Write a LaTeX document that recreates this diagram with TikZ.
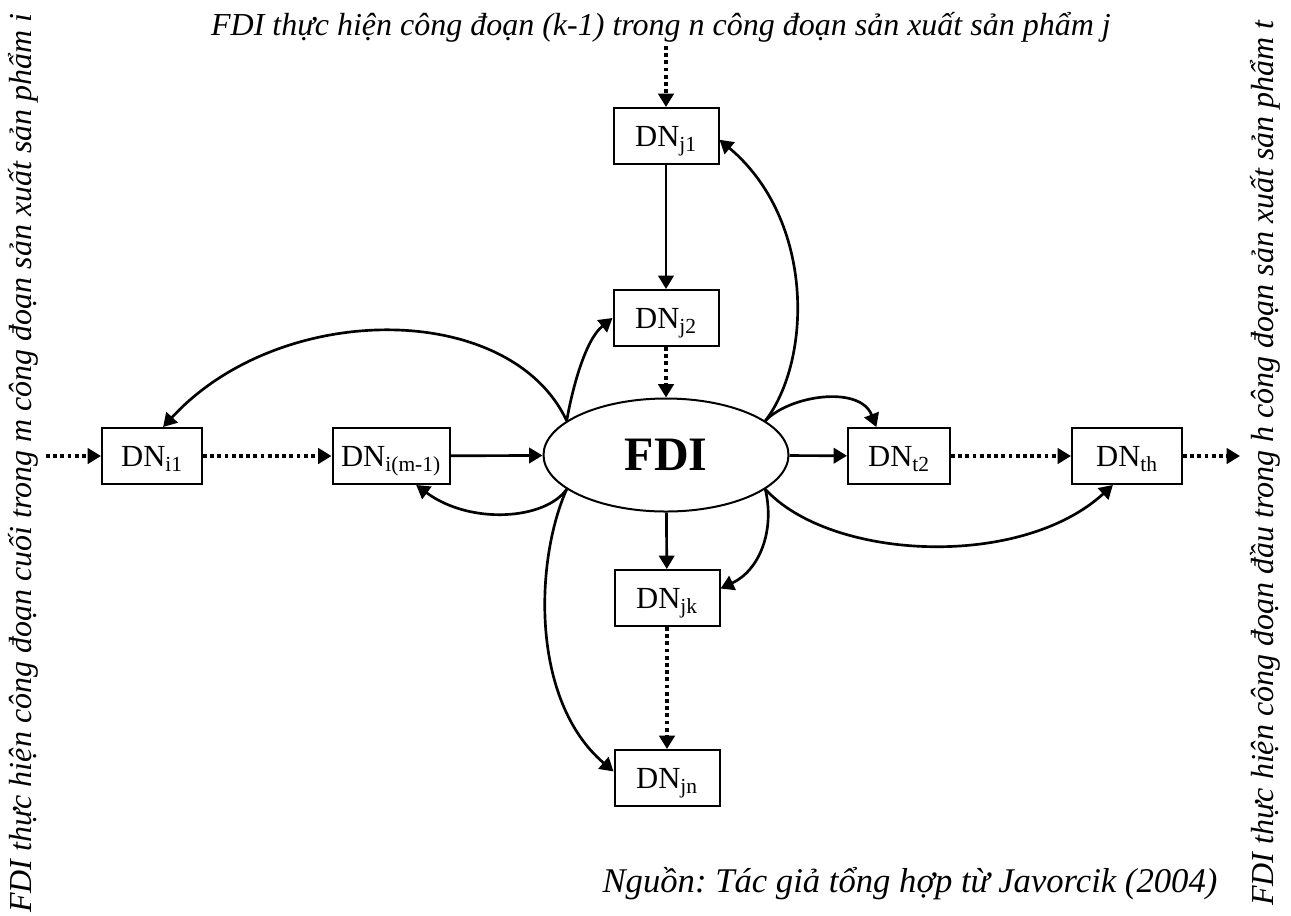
\documentclass[tikz,border=0pt]{standalone}
\usepackage{fontspec}
\setmainfont{Liberation Serif}
\usetikzlibrary{arrows.meta,shapes.geometric}
\frenchspacing

\begin{document}
\begin{tikzpicture}[x=0.75pt,y=-0.75pt,
  box/.style={draw,line width=1.5pt,minimum height=42pt,inner sep=0pt,
    text height=17pt,text depth=1.8pt,font=\fontsize{23}{27}\selectfont},
  tip/.style={-{Triangle[length=10pt,width=11.5pt]}},
  solidarr/.style={tip,line width=2pt},
  dotarr/.style={tip,line width=2.8pt,dash pattern=on 2.8pt off 2.6pt},
  lbl/.style={font=\itshape\fontsize{24}{28}\selectfont,inner sep=0pt}
]
\useasboundingbox (0,0) rectangle (1291,915);

% central firm
\node[ellipse,draw,line width=1.5pt,minimum width=183.75pt,minimum height=84.75pt,
  inner sep=0pt,font=\bfseries\fontsize{36}{40}\selectfont] (fdi) at (666,455) {FDI};

% vertical chain (product j)
\node[box,minimum width=78.75pt] (j1) at (666,136) {DN\textsubscript{j1}};
\node[box,minimum width=78.75pt] (j2) at (666,318) {DN\textsubscript{j2}};
\node[box,minimum width=78.75pt] (jk) at (667,598) {DN\textsubscript{jk}};
\node[box,minimum width=78.75pt] (jn) at (667,778) {DN\textsubscript{jn}};

% horizontal chain (products i and t)
\node[box,minimum width=75pt]   (i1) at (152,456) {DN\textsubscript{i1}};
\node[box,minimum width=87.75pt] (im) at (391,456) {DN\textsubscript{i(m-1)}};
\node[box,minimum width=76.5pt] (t2) at (899,456) {DN\textsubscript{t2}};
\node[box,minimum width=82.5pt] (th) at (1127,456) {DN\textsubscript{th}};

% free ends of the outer dotted arrows
\coordinate (tin) at (666,46);
\coordinate (lin) at (46,456);
\coordinate (rout) at (1240,456);

% labels
\node[lbl] (ttop) at (661,27) {FDI thực hiện công đoạn (k-1) trong n công đoạn sản xuất sản phẩm j};
\node[lbl,rotate=90] (tleft) at (23,463) {FDI thực hiện công đoạn cuối trong m công đoạn sản xuất sản phẩm i};
\node[lbl,rotate=90] (tright) at (1265,463) {FDI thực hiện công đoạn đầu trong h công đoạn sản xuất sản phẩm t};
\node[lbl,font=\itshape\fontsize{26}{30}\selectfont] (src) at (910,884) {Nguồn: Tác giả tổng hợp từ Javorcik (2004)};

% straight links
\draw[dotarr] (tin) -- (j1.north);
\draw[solidarr] (j1) -- (j2);
\draw[dotarr] (j2) -- (fdi);
\draw[solidarr] (fdi) -- (jk);
\draw[dotarr] (jk) -- (jn);
\draw[dotarr] (lin) -- (i1.west);
\draw[dotarr] (i1) -- (im);
\draw[solidarr] (im) -- (fdi);
\draw[solidarr] (fdi) -- (t2);
\draw[dotarr] (t2) -- (th);
\draw[dotarr] (th.east) -- (rout);

% curved links out of FDI
\draw[solidarr] (fdi.161) .. controls (510,300) and (280,300) .. (i1.69);
\draw[solidarr] (fdi.161) .. controls (572,390) and (585,340) .. (j2.west);
\draw[solidarr] (fdi.19) .. controls (812,360) and (815,220) .. (j1.-4);
\draw[solidarr] (fdi.19) .. controls (790,395) and (860,385) .. (t2.128);
\draw[solidarr] (fdi.199) .. controls (545,520) and (470,525) .. (im.-49);
\draw[solidarr] (fdi.199) .. controls (535,560) and (530,700) .. (jn.173);
\draw[solidarr] (fdi.-19) .. controls (775,530) and (760,570) .. (jk.10);
\draw[solidarr] (fdi.-19) .. controls (830,560) and (1020,570) .. (th.-116);
\end{tikzpicture}
\end{document}
